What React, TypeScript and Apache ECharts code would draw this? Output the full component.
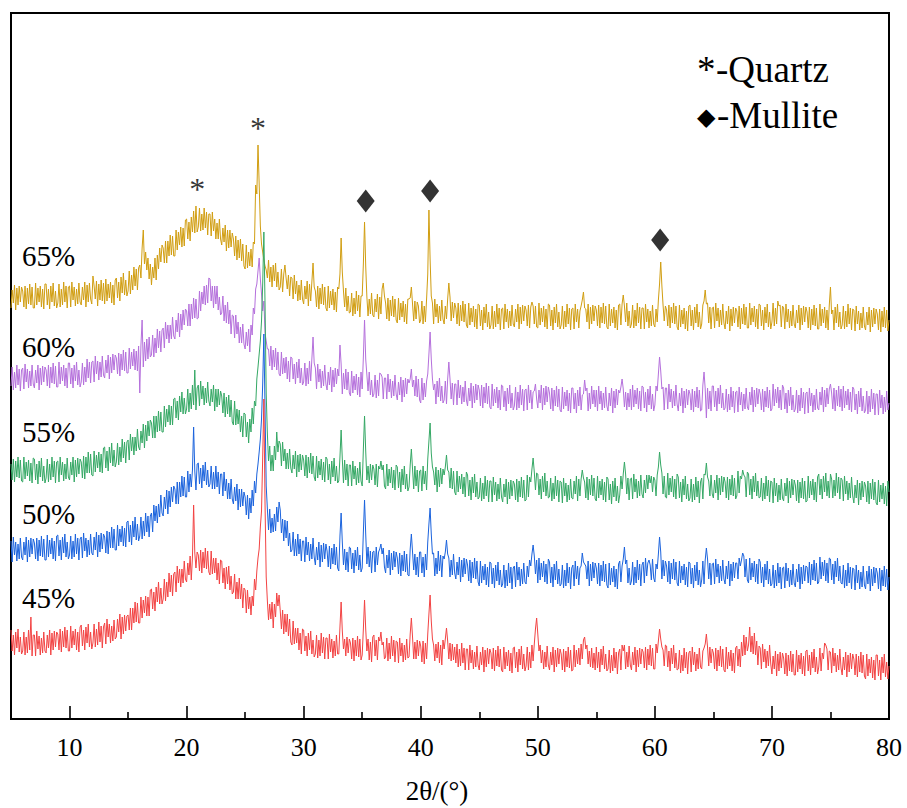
import React, { useEffect, useRef } from 'react';
import * as echarts from 'echarts';

// Scans start at 5° and are stored one row per degree, 0.1° apart
const START = 5;
const STEP = 0.1;

const SAMPLES = ['45%', '50%', '55%', '60%', '65%'];
const COLORS = ['#F24343', '#1B63DD', '#35A865', '#B570DC', '#D19E12'];
// vertical offsets used to stack the patterns
const OFFSETS = [30, 115, 200, 290, 375];

const MAJOR_TICKS = [10, 20, 30, 40, 50, 60, 70, 80];
const MINOR_TICKS = [15, 25, 35, 45, 55, 65, 75];

// Intensities (a.u.); row r holds 2θ = 5+r .. 5+r+0.9
const I45 = [
  [59,38,54,34,57,41,60,37,52,35],[38,57,34,52,36,59,39,72,33,54],[54,33,58,40,53,34,51,36,57,38],
  [36,54,41,59,34,56,39,58,42,57],[55,39,60,37,58,42,62,41,59,38],[38,63,41,58,44,60,39,57,37,62],
  [64,43,59,39,62,46,65,42,57,40],[46,65,42,60,44,67,47,63,41,62],[66,45,70,52,65,46,63,48,69,50],
  [52,70,57,75,50,72,55,74,58,73],[74,59,81,59,81,66,87,67,86,66],[66,92,71,89,76,93,73,92,73,99],
  [100,80,97,78,102,87,107,85,101,85],[90,110,88,107,92,116,97,114,93,115],[117,97,123,106,120,102,120,106,128,110],
  [107,126,114,133,109,132,184,136,121,137],[134,118,139,116,137,121,141,120,138,117],[114,138,115,131,116,131,109,126,105,129],
  [128,106,121,100,122,105,123,99,113,95],[97,115,90,107,90,111,90,105,81,101],[99,76,99,80,92,74,93,83,110,99],
  [118,131,140,162,178,232,290,185,112,88],[69,85,70,87,61,85,72,96,83,94],[78,60,79,55,75,57,75,53,70,47],
  [44,68,45,61,46,61,39,56,35,60],[59,38,53,33,56,39,58,35,49,32],[35,54,31,49,33,56,36,52,30,51],
  [51,30,55,37,50,31,48,33,54,35],[35,62,87,58,40,50,33,52,36,50],[46,30,51,28,49,33,53,32,50,29],
  [34,60,89,60,38,50,29,47,27,52],[54,33,49,29,52,48,57,44,47,30],[32,51,28,46,30,53,33,49,27,48],
  [47,26,51,33,46,27,44,29,50,31],[32,55,71,52,30,47,30,49,33,48],[43,27,48,25,46,30,55,75,94,68],
  [50,44,28,45,31,47,26,44,24,49],[40,50,61,48,30,46,28,45,29,42],[26,45,22,40,23,46,26,41,19,40],
  [40,19,44,26,39,20,37,22,43,24],[19,37,24,42,17,39,22,41,25,40],[36,20,41,18,39,23,43,22,40,19],
  [17,42,20,37,23,39,18,36,16,41],[42,21,37,17,40,24,43,20,35,18],[23,42,19,37,21,44,28,45,60,71],
  [55,38,44,26,39,20,37,22,43,24],[19,37,24,42,17,39,22,41,25,40],[35,19,40,17,38,22,42,21,39,18],
  [19,44,22,39,25,41,24,45,30,49],[52,40,44,25,38,22,41,21,36,19],[42,21,37,17,40,24,43,20,35,18],
  [20,39,16,34,18,41,21,37,15,36],[40,19,44,38,44,20,37,22,43,24],[19,37,24,42,17,39,22,41,25,40],
  [37,21,42,19,40,24,44,23,41,20],[20,45,36,48,60,50,42,39,23,44],[43,22,38,18,41,25,44,21,36,19],
  [20,39,16,34,18,41,21,37,15,36],[38,17,42,24,37,18,35,20,41,22],[20,38,41,45,55,42,23,42,26,40],
  [36,20,41,18,39,23,43,22,40,19],[17,42,20,37,23,39,18,36,16,41],[43,23,40,22,47,33,54,34,52,38],
  [44,62,37,53,35,56,34,48,24,43],[41,20,45,27,40,21,38,23,44,25],[15,33,20,38,13,35,18,37,21,36],
  [31,15,36,13,34,18,38,17,35,14],[14,39,17,34,20,36,15,33,13,38],[39,18,34,14,37,21,40,17,32,15],
  [22,41,18,36,30,46,44,40,19,38],[37,16,41,23,36,17,34,19,40,21],[14,32,19,37,12,34,17,36,20,35],
  [30,14,35,12,33,17,37,16,34,13],[10,35,13,30,16,32,11,29,9,34],[34,13,29,9,32,16,35,12,27,10],
  [23],
];

const I50 = [
  [63,42,67,49,62,43,60,45,66,47],[44,62,49,67,42,64,47,66,50,65],[61,45,66,43,64,48,68,47,65,44],
  [44,69,47,64,50,66,45,63,43,68],[69,48,64,44,67,51,70,47,62,45],[49,68,45,63,47,70,50,66,44,65],
  [67,46,71,53,66,47,64,49,70,51],[49,67,54,72,47,69,52,71,55,70],[67,51,73,50,72,56,77,56,75,54],
  [54,79,58,75,62,78,58,76,57,82],[83,62,79,59,83,67,87,64,80,63],[68,87,65,83,68,91,72,88,67,88],
  [91,72,99,83,98,81,100,87,109,91],[88,107,95,114,90,113,97,117,102,118],[115,100,122,100,122,107,128,108,127,107],
  [107,133,112,130,117,134,177,133,114,140],[141,120,136,116,139,123,142,119,134,117],[120,138,115,132,115,138,117,132,110,130],
  [130,108,132,113,125,105,121,105,125,105],[100,117,103,120,94,115,97,115,98,112],[107,89,109,85,106,91,114,98,123,111],
  [130,140,152,165,185,220,270,195,118,95],[74,95,71,86,72,90,73,97,82,102],[94,71,85,63,84,66,83,58,71,52],
  [54,72,48,65,48,70,50,65,43,63],[63,42,67,49,62,43,60,45,66,47],[39,57,44,62,37,59,42,61,45,60],
  [53,37,58,35,56,40,60,39,57,36],[33,68,91,62,39,55,34,52,32,57],[56,35,51,31,54,38,57,34,49,32],
  [36,72,104,70,40,57,37,53,31,52],[53,32,57,39,52,55,60,50,56,37],[31,49,36,54,29,51,34,53,37,52],
  [46,30,51,28,49,33,53,32,50,29],[28,55,70,52,34,50,29,47,27,52],[52,31,47,27,50,34,62,80,96,70],
  [50,51,28,46,30,53,33,49,27,48],[45,52,64,50,46,27,44,29,50,31],[25,42,29,47,22,44,27,46,30,45],
  [39,23,44,21,42,26,46,25,43,22],[18,43,21,38,24,40,19,37,17,42],[41,20,36,16,39,23,42,19,34,17],
  [20,39,16,34,18,41,21,37,15,36],[38,17,42,24,37,18,35,20,41,22],[20,38,27,44,38,50,59,48,30,44],
  [21,46,24,41,27,43,22,40,20,45],[42,21,37,17,40,24,43,20,35,18],[20,39,16,34,18,41,21,37,15,36],
  [39,18,43,25,38,19,36,38,51,42],[40,38,25,43,18,40,23,42,26,41],[36,20,41,18,39,23,43,22,40,19],
  [16,41,19,36,22,38,17,35,15,40],[43,22,38,45,57,40,44,21,36,19],[23,42,19,37,21,44,24,40,18,39],
  [42,21,46,28,41,44,39,24,45,26],[22,40,35,50,67,52,25,44,28,43],[38,22,43,20,41,25,45,24,42,21],
  [18,43,21,38,24,40,19,37,17,42],[41,20,36,16,39,23,42,19,34,17],[24,43,20,44,56,45,25,41,19,40],
  [41,20,45,27,40,21,38,23,44,25],[20,38,25,43,18,40,23,42,26,41],[41,25,46,38,44,51,48,27,45,24],
  [21,46,24,41,27,43,22,40,20,45],[42,21,37,17,40,24,43,20,35,18],[20,39,16,34,18,41,21,37,15,36],
  [37,16,41,23,36,17,34,19,40,21],[17,35,22,40,15,37,20,39,23,38],[37,21,42,19,40,24,44,23,41,20],
  [22,47,25,42,28,44,23,41,21,46],[45,24,40,20,43,27,46,23,38,21],[20,39,16,34,18,41,21,37,15,36],
  [35,14,39,21,34,15,32,17,38,19],[15,33,20,38,13,35,18,37,21,36],[31,15,36,13,34,18,38,17,35,14],
  [27],
];

const I55 = [
  [55,39,60,37,58,42,62,41,59,38],[37,62,40,57,43,59,38,56,36,61],[60,39,55,35,58,42,61,38,53,36],
  [41,60,37,55,39,62,42,58,36,57],[58,37,62,44,57,38,55,40,61,42],[39,57,44,62,37,59,42,61,45,60],
  [57,41,63,40,62,46,67,46,65,44],[43,68,47,64,51,67,47,65,46,71],[72,51,68,48,72,56,76,53,69,52],
  [57,76,54,72,57,80,61,77,56,77],[79,59,85,68,82,64,82,68,90,72],[69,88,76,95,71,94,78,98,83,99],
  [96,81,103,81,103,87,108,88,107,87],[87,113,92,110,97,114,94,113,94,120],[121,101,118,99,123,107,127,105,121,105],
  [110,130,107,126,110,134,114,149,109,131],[134,113,138,120,133,114,131,116,137,118],[113,130,117,134,108,130,112,130,114,128],
  [123,106,126,102,122,105,124,102,119,97],[94,118,94,110,95,109,87,103,82,106],[105,82,97,76,100,87,111,95,118,113],
  [140,152,165,178,198,235,287,215,125,85],[58,73,48,64,48,73,59,87,67,78],[75,53,77,58,70,50,66,50,70,51],
  [46,64,50,68,42,64,47,65,49,64],[59,43,64,41,62,46,66,45,63,42],[38,63,41,58,44,60,39,57,37,62],
  [60,39,55,35,58,42,61,38,53,36],[38,62,89,60,36,59,39,55,33,54],[54,33,58,40,53,34,51,36,57,38],
  [33,70,103,68,39,53,36,55,39,54],[50,34,55,32,53,50,58,49,54,33],[30,55,33,50,36,52,31,49,29,54],
  [52,31,47,27,50,34,53,30,45,28],[32,54,70,50,30,53,33,49,27,48],[49,28,53,35,48,29,60,78,96,66],
  [52,47,34,52,27,49,32,51,35,50],[44,52,64,49,47,31,51,30,48,27],[24,48,27,43,30,45,25,42,22,47],
  [44,23,39,19,42,26,45,22,37,20],[22,41,18,36,20,43,23,39,17,38],[38,17,42,24,37,18,35,20,41,22],
  [17,35,22,40,15,37,20,39,23,38],[35,19,40,17,38,22,42,21,39,18],[19,44,22,42,37,50,61,47,29,46],
  [45,24,40,20,43,27,46,23,38,21],[22,41,18,36,20,43,23,39,17,38],[37,16,41,23,36,17,34,19,40,21],
  [20,38,25,43,18,40,23,40,49,41],[37,21,42,19,40,24,44,23,41,20],[18,43,21,38,24,40,19,37,17,42],
  [40,19,35,15,38,22,41,18,33,16],[24,43,30,45,57,45,25,41,19,40],[41,20,45,27,40,21,38,23,44,25],
  [21,39,26,44,30,44,36,43,27,42],[39,23,44,52,67,54,46,25,43,22],[21,46,24,41,27,43,22,40,20,45],
  [42,21,37,17,40,24,43,20,35,18],[21,40,17,35,19,42,22,38,16,37],[41,20,45,44,56,42,38,23,44,25],
  [21,39,26,44,19,41,24,43,27,42],[37,21,42,19,40,24,44,23,41,20],[23,48,26,43,40,49,44,42,22,47],
  [45,24,40,20,43,27,46,23,38,21],[22,41,18,36,20,43,23,39,17,38],[37,16,41,23,36,17,34,19,40,21],
  [18,36,23,41,16,38,21,40,24,39],[34,18,39,16,37,21,41,20,38,17],[18,43,21,38,24,40,19,37,17,42],
  [45,24,40,20,43,27,46,23,38,21],[45,40,21,39,23,46,26,42,20,41],[39,18,43,25,38,19,36,21,42,23],
  [16,34,21,39,14,36,19,38,22,37],[33,17,38,15,36,20,40,19,37,16],[14,39,17,34,20,36,15,33,13,38],
  [27],
];

const I60 = [
  [43,62,39,57,41,64,44,60,38,59],[61,40,65,47,60,41,58,43,64,45],[41,59,46,64,39,61,44,63,47,62],
  [59,43,64,41,62,46,66,45,63,42],[42,67,45,62,48,64,43,61,41,66],[66,45,61,41,64,48,67,44,59,42],
  [47,66,44,62,47,70,51,67,46,67],[68,47,73,55,68,49,67,52,73,54],[51,69,56,74,50,72,56,75,59,74],
  [71,55,76,53,75,59,79,58,77,56],[56,81,60,77,63,80,59,78,58,83],[36,84,109,62,87,68,90,70,92,72],
  [74,94,72,91,76,100,81,98,77,99],[101,81,107,90,104,86,104,90,112,93],[90,109,97,116,92,115,99,119,104,120],
  [118,103,125,103,125,110,131,111,130,110],[111,138,118,137,125,143,124,144,126,151],[150,128,143,121,143,125,143,119,132,114],
  [116,133,108,124,106,127,105,119,95,114],[113,91,114,95,107,86,102,86,105,85],[80,97,83,100,77,104,94,121,115,140],
  [145,158,171,150,135,118,128,96,88,80],[80,63,83,59,79,62,81,59,77,55],[53,77,55,71,56,72,50,68,47,72],
  [71,50,65,45,67,51,70,46,61,44],[47,66,43,61,45,68,48,70,92,66],[61,40,65,47,60,41,58,43,64,45],
  [39,57,44,62,37,59,42,61,45,60],[53,84,65,35,56,40,60,39,57,36],[33,58,36,53,39,55,34,52,32,57],
  [40,72,109,70,54,38,57,34,49,32],[35,54,31,49,33,56,55,52,30,51],[51,30,55,37,50,31,48,33,54,35],
  [29,47,34,52,27,49,32,51,35,50],[46,50,60,42,49,33,53,32,50,29],[26,51,29,46,32,48,55,75,97,70],
  [50,39,45,25,48,32,51,28,43,26],[29,48,25,50,67,50,30,46,24,45],[45,24,49,31,44,25,42,27,48,29],
  [23,41,28,46,21,43,26,45,29,44],[39,23,44,21,42,26,46,25,43,22],[20,45,23,40,26,42,21,39,19,44],
  [43,22,38,18,41,25,44,21,36,19],[23,42,19,37,21,44,24,40,18,39],[40,19,44,26,39,20,37,38,45,30],
  [21,39,26,44,19,41,24,43,27,42],[36,20,41,18,39,23,43,22,40,19],[17,42,20,37,23,39,18,36,16,41],
  [41,20,36,16,39,23,42,19,34,35],[49,38,41,18,36,20,43,25,39,22],[39,18,43,25,38,19,36,21,42,23],
  [18,36,23,41,16,38,21,40,24,39],[36,42,50,40,22,37,19,36,22,40],[19,44,22,39,25,41,20,38,18,43],
  [42,21,37,17,40,24,43,20,35,18],[24,43,38,55,72,58,40,42,19,41],[41,20,45,27,40,21,38,23,44,25],
  [18,36,23,41,16,38,21,40,24,39],[35,19,40,17,38,22,42,21,39,18],[19,44,57,40,11,41,20,38,18,43],
  [43,22,38,18,41,25,44,21,36,19],[21,40,17,35,19,42,22,38,16,37],[38,17,42,24,37,18,35,20,41,22],
  [19,37,24,42,17,39,22,41,25,40],[35,19,40,17,38,22,42,21,39,18],[20,45,23,40,26,42,21,39,19,44],
  [41,20,36,16,39,23,42,19,34,17],[20,39,16,34,18,41,21,37,15,36],[37,16,41,23,36,17,34,19,40,21],
  [19,37,24,42,17,39,22,41,25,40],[45,36,20,41,18,39,23,43,22,40],[18,43,21,38,24,40,19,37,17,42],
  [40,19,35,15,38,22,41,18,33,16],[19,38,15,33,17,40,20,36,14,35],[35,14,39,21,34,15,32,17,38,19],
  [26],
];

const I65 = [
  [36,54,41,59,34,56,39,58,42,57],[53,37,58,35,56,40,60,39,57,36],[36,61,39,56,42,58,37,55,35,60],
  [60,39,55,35,58,42,61,38,53,36],[41,60,37,55,39,62,42,58,36,57],[58,37,62,44,57,38,55,40,61,42],
  [39,57,44,62,37,59,42,61,45,40],[68,58,45,63,38,60,44,64,43,61],[40,65,43,60,46,62,41,59,39,64],
  [66,46,62,43,67,51,71,49,64,48],[53,73,50,69,54,77,58,75,54,76],[79,66,96,114,80,92,74,86,65,80],
  [59,77,66,86,64,89,75,96,82,99],[96,81,103,81,103,88,109,89,108,88],[88,114,94,112,99,117,97,116,98,124],
  [125,105,122,103,127,112,133,111,138,112],[117,136,113,130,114,136,116,132,109,130],[130,108,132,113,125,105,121,105,125,105],
  [99,116,102,119,93,114,96,114,97,111],[105,88,108,84,104,86,105,83,100,78],[75,99,76,92,78,95,77,102,100,159],
  [150,199,160,118,100,92,84,78,74,66],[84,62,77,57,79,63,81,57,72,54],[57,75,52,70,79,66,55,69,48,67],
  [66,45,69,50,63,43,59,44,64,45],[40,58,45,63,38,60,43,62,81,57],[53,37,58,35,56,40,60,39,57,36],
  [33,58,36,53,39,55,34,52,32,57],[55,70,106,72,53,37,56,33,48,31],[32,51,28,46,30,53,33,49,27,48],
  [48,80,122,78,47,28,45,30,51,29],[27,45,32,50,25,47,30,55,61,48],[41,25,46,23,44,28,48,27,45,24],
  [21,46,24,41,27,43,22,40,20,45],[45,46,57,40,23,43,25,42,38,21],[24,43,20,38,22,45,70,134,85,48],
  [41,20,45,27,40,21,38,23,44,25],[20,38,25,45,61,47,23,42,26,41],[36,20,41,18,39,23,43,22,40,19],
  [16,41,19,36,22,38,17,35,15,40],[39,18,34,14,37,21,40,17,32,15],[19,38,15,33,17,40,20,36,14,35],
  [36,15,40,22,35,16,33,18,39,20],[17,35,22,40,15,37,20,39,23,38],[34,18,39,16,37,42,38,20,38,17],
  [16,41,19,36,22,38,17,35,15,40],[39,18,34,14,37,21,40,17,32,15],[19,38,15,33,17,40,20,36,14,35],
  [36,15,40,22,35,16,33,38,44,52],[36,35,22,40,15,37,20,39,23,38],[34,18,39,16,37,21,41,20,38,17],
  [15,40,18,35,21,37,16,34,14,39],[40,19,40,49,38,22,41,18,33,16],[20,39,16,34,18,41,21,37,15,36],
  [36,15,40,22,35,16,33,18,39,20],[17,35,22,44,60,82,58,39,23,38],[34,18,39,16,37,21,41,20,38,17],
  [14,39,17,34,20,36,15,33,13,38],[39,18,34,14,37,21,40,17,32,15],[20,39,43,54,40,41,21,37,15,36],
  [37,16,41,23,36,17,34,19,40,21],[15,33,20,38,13,35,18,37,21,36],[33,17,38,15,36,20,40,19,37,16],
  [16,41,19,36,22,38,17,35,15,40],[39,18,34,14,37,21,40,17,32,15],[22,41,18,36,20,43,38,39,17,38],
  [36,15,40,22,35,16,33,18,39,20],[16,34,21,39,14,36,19,38,22,37],[32,16,37,14,35,19,39,18,36,15],
  [15,40,18,35,21,37,16,34,14,39],[57,30,34,14,37,21,40,17,32,15],[19,38,15,33,17,40,20,36,14,35],
  [34,13,38,20,33,14,31,16,37,18],[14,32,19,37,12,34,17,36,20,35],[30,14,35,12,33,17,37,16,34,13],
  [24],
];

const PATTERNS = [I45, I50, I55, I60, I65];

// Phase markers placed above the reflections (2θ, plotted height)
const QUARTZ_MARKS = [[20.9, 530], [26.1, 591]];
const MULLITE_MARKS = [[35.3, 518], [40.8, 528], [60.45, 479]];

const SERIF = 'Times New Roman';

export default function App() {
  const ref = useRef<HTMLDivElement>(null);

  useEffect(() => {
    if (!ref.current) return;
    const chart = echarts.init(ref.current, undefined, { renderer: 'svg' });

    const lineSeries = PATTERNS.map((rows, k) => ({
      name: SAMPLES[k],
      type: 'line',
      data: rows.flatMap((row, r) =>
        row.map((v, j) => [+(START + r + j * STEP).toFixed(1), v + OFFSETS[k]])
      ),
      showSymbol: false,
      symbol: 'none',
      silent: true,
      lineStyle: { color: COLORS[k], width: 1 },
      itemStyle: { color: COLORS[k] },
      z: 2,
    })).reverse();

    const labelY = [598, 514, 432, 347, 256];

    const option: any = {
      animation: false,
      backgroundColor: '#fff',
      textStyle: { fontFamily: SERIF },
      grid: {
        left: 11,
        top: 13,
        width: 878,
        height: 706,
        show: true,
        borderColor: '#000',
        borderWidth: 2,
      },
      xAxis: [
        {
          type: 'value',
          min: 5,
          max: 80,
          position: 'bottom',
          axisLine: { show: true, lineStyle: { color: '#000', width: 2 } },
          axisTick: {
            show: true,
            inside: true,
            length: 13,
            customValues: MAJOR_TICKS,
            lineStyle: { color: '#000', width: 1.6 },
          },
          axisLabel: {
            customValues: MAJOR_TICKS,
            color: '#000',
            fontFamily: SERIF,
            fontSize: 26,
            margin: 15,
          },
          splitLine: { show: false },
        },
        {
          type: 'value',
          min: 5,
          max: 80,
          position: 'bottom',
          axisLine: { show: false },
          axisTick: {
            show: true,
            inside: true,
            length: 7,
            customValues: MINOR_TICKS,
            lineStyle: { color: '#000', width: 1.6 },
          },
          axisLabel: { show: false },
          splitLine: { show: false },
        },
      ],
      yAxis: {
        type: 'value',
        min: 0,
        max: 706,
        show: false,
        splitLine: { show: false },
      },
      series: [
        ...lineSeries,
        {
          type: 'scatter',
          data: QUARTZ_MARKS,
          symbolSize: 1,
          silent: true,
          itemStyle: { color: 'rgba(0,0,0,0)' },
          label: {
            show: true,
            position: 'inside',
            formatter: '*',
            fontFamily: SERIF,
            fontSize: 32,
            color: '#000',
          },
          z: 5,
        },
        {
          type: 'scatter',
          data: MULLITE_MARKS,
          symbol: 'diamond',
          symbolSize: [18, 23],
          silent: true,
          itemStyle: { color: '#000' },
          z: 5,
        },
      ],
      graphic: [
        ...SAMPLES.map((s, k) => ({
          type: 'text',
          x: 22,
          y: labelY[k] - 15,
          style: {
            text: s,
            fontFamily: SERIF,
            fontSize: 29,
            fill: '#000',
          },
        })),
        // legend: symbol and phase name drawn as neighbouring texts
        {
          type: 'text',
          x: 697,
          y: 51,
          style: { text: '*', fontFamily: SERIF, fontSize: 37, fill: '#000' },
        },
        {
          type: 'text',
          x: 716,
          y: 51,
          style: { text: '-Quartz', fontFamily: SERIF, fontSize: 37, fill: '#000' },
        },
        {
          type: 'text',
          x: 697,
          y: 117,
          style: {
            text: '◆',
            fontFamily: 'DejaVu Sans',
            fontSize: 24,
            fill: '#000',
            verticalAlign: 'middle',
          },
        },
        {
          type: 'text',
          x: 717,
          y: 97,
          style: { text: '-Mullite', fontFamily: SERIF, fontSize: 37, fill: '#000' },
        },
        {
          type: 'text',
          x: 437,
          y: 777,
          style: {
            text: '2θ/(°)',
            fontFamily: SERIF,
            fontSize: 27,
            fill: '#000',
            align: 'center',
          },
        },
      ],
    };

    chart.setOption(option);
    return () => chart.dispose();
  }, []);

  return (
    <div
      ref={ref}
      style={{ position: 'fixed', left: 0, top: 0, width: 907, height: 808, background: '#fff' }}
    />
  );
}
